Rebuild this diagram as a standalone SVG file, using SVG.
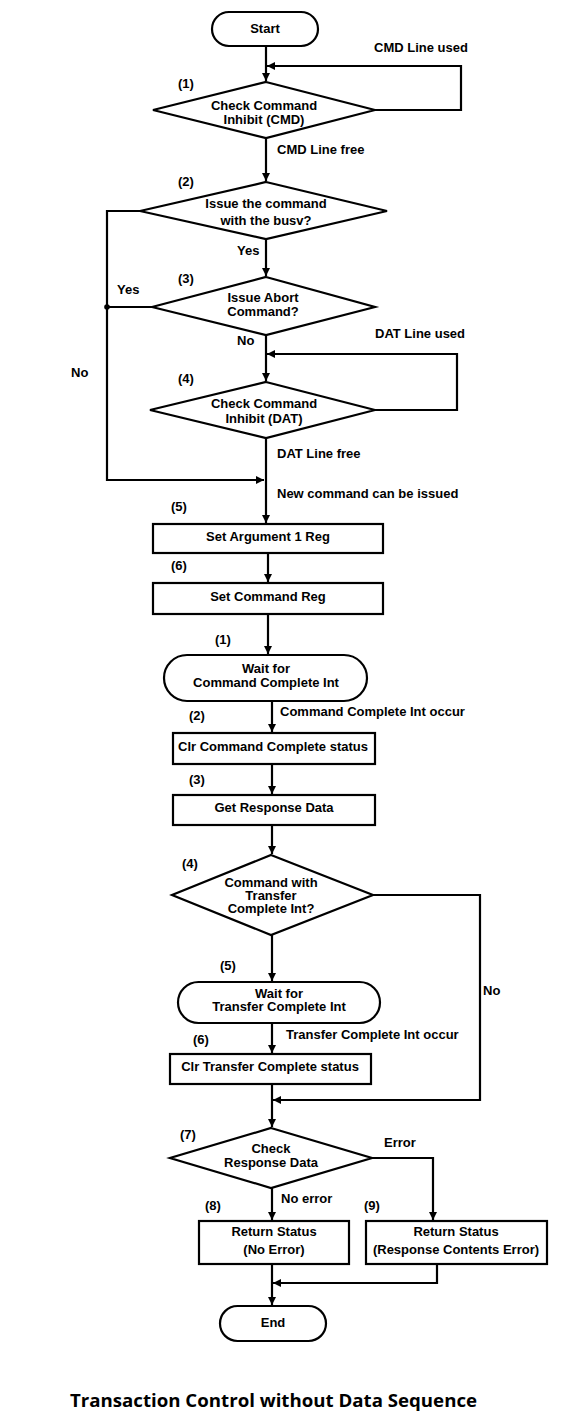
<svg xmlns="http://www.w3.org/2000/svg" width="576" height="1427" viewBox="0 0 576 1427">
<style>
.n{fill:#fff;stroke:#000;stroke-width:2.2}
.c{fill:none;stroke:#000;stroke-width:2.2}
text{font-family:"Liberation Sans",Arial,sans-serif;font-size:13px;font-weight:bold;fill:#000}
.m{text-anchor:middle}
.t{font-family:"Open Sans","Noto Sans",sans-serif;font-size:18px;font-weight:bold}
</style>
<defs>
<marker id="a" viewBox="0 0 10 10" refX="10" refY="5" markerWidth="9" markerHeight="8" markerUnits="userSpaceOnUse" orient="auto">
<path d="M0,0 L10,5 L0,10 z" fill="#000"/>
</marker>
</defs>
<g id="connectors">
<path class="c" d="M266,46 V81" marker-end="url(#a)"/>
<path class="c" d="M375,110 H461 V66 H267" marker-end="url(#a)"/>
<path class="c" d="M266,138 V181" marker-end="url(#a)"/>
<path class="c" d="M266,239 V276" marker-end="url(#a)"/>
<path class="c" d="M140,211 H107 V480 H264" marker-end="url(#a)"/>
<path class="c" d="M152,307 H107"/>
<circle cx="107" cy="307" r="2.8" fill="#000"/>
<path class="c" d="M266,335 V381" marker-end="url(#a)"/>
<path class="c" d="M375,410 H457 V354 H267" marker-end="url(#a)"/>
<path class="c" d="M266,438 V523" marker-end="url(#a)"/>
<path class="c" d="M268,553 V582" marker-end="url(#a)"/>
<path class="c" d="M268,614 V654" marker-end="url(#a)"/>
<path class="c" d="M272,701 V732" marker-end="url(#a)"/>
<path class="c" d="M272,764 V794" marker-end="url(#a)"/>
<path class="c" d="M272,825 V854" marker-end="url(#a)"/>
<path class="c" d="M272,935 V981" marker-end="url(#a)"/>
<path class="c" d="M272,1023 V1053" marker-end="url(#a)"/>
<path class="c" d="M373,895 H480 V1100 H273" marker-end="url(#a)"/>
<path class="c" d="M272,1084 V1127" marker-end="url(#a)"/>
<path class="c" d="M372,1158 H433 V1220" marker-end="url(#a)"/>
<path class="c" d="M272,1188 V1220" marker-end="url(#a)"/>
<path class="c" d="M437,1264 V1283 H273" marker-end="url(#a)"/>
<path class="c" d="M272,1264 V1305" marker-end="url(#a)"/>
</g>
<g id="labels">
<text x="374" y="52">CMD Line used</text>
<text x="277" y="154">CMD Line free</text>
<text x="237" y="255">Yes</text>
<text x="117" y="294">Yes</text>
<text x="375" y="338">DAT Line used</text>
<text x="237" y="345">No</text>
<text x="71" y="377">No</text>
<text x="277" y="458">DAT Line free</text>
<text x="277" y="498">New command can be issued</text>
<text x="280" y="716">Command Complete Int occur</text>
<text x="483" y="995">No</text>
<text x="286" y="1039">Transfer Complete Int occur</text>
<text x="384" y="1147">Error</text>
<text x="281" y="1203">No error</text>
<text x="178" y="88">(1)</text>
<text x="178" y="186">(2)</text>
<text x="178" y="283">(3)</text>
<text x="178" y="383">(4)</text>
<text x="171" y="511">(5)</text>
<text x="171" y="570">(6)</text>
<text x="215" y="644">(1)</text>
<text x="189" y="720">(2)</text>
<text x="189" y="784">(3)</text>
<text x="182" y="868">(4)</text>
<text x="220" y="970">(5)</text>
<text x="193" y="1044">(6)</text>
<text x="180" y="1139">(7)</text>
<text x="205" y="1210">(8)</text>
<text x="364" y="1210">(9)</text>
</g>
<g id="start">
<rect class="n" x="212" y="12" width="106" height="34" rx="17"/>
<text class="m" x="265" y="33">Start</text>
</g>
<g id="check-cmd">
<polygon class="n" points="266,82 375,110 266,138 153,110"/>
<text class="m" x="264" y="110">Check Command</text>
<text class="m" x="264" y="124">Inhibit (CMD)</text>
</g>
<g id="issue-busy">
<polygon class="n" points="266,182 387,211 266,239 140,211"/>
<text class="m" x="266" y="208">Issue the command</text>
<text class="m" x="266" y="225">with the busv?</text>
</g>
<g id="abort">
<polygon class="n" points="266,277 375,307 266,335 152,307"/>
<text class="m" x="263" y="302">Issue Abort</text>
<text class="m" x="263" y="316">Command?</text>
</g>
<g id="check-dat">
<polygon class="n" points="266,382 375,410 266,438 150,410"/>
<text class="m" x="264" y="408">Check Command</text>
<text class="m" x="264" y="423">Inhibit (DAT)</text>
</g>
<g id="set-arg">
<rect class="n" x="153" y="524" width="230" height="29"/>
<text class="m" x="268" y="541">Set Argument 1 Reg</text>
</g>
<g id="set-cmd">
<rect class="n" x="153" y="583" width="230" height="31"/>
<text class="m" x="268" y="601">Set Command Reg</text>
</g>
<g id="wait-cmd">
<rect class="n" x="164" y="655" width="203" height="46" rx="23"/>
<text class="m" x="266" y="673">Wait for</text>
<text class="m" x="266" y="687">Command Complete Int</text>
</g>
<g id="clr-cmd">
<rect class="n" x="173" y="733" width="202" height="31"/>
<text class="m" x="273" y="751">Clr Command Complete status</text>
</g>
<g id="get-resp">
<rect class="n" x="173" y="795" width="202" height="30"/>
<text class="m" x="274" y="812">Get Response Data</text>
</g>
<g id="with-transfer">
<polygon class="n" points="271,855 373,895 271,935 172,895"/>
<text class="m" x="271" y="887">Command with</text>
<text class="m" x="271" y="900">Transfer</text>
<text class="m" x="271" y="913">Complete Int?</text>
</g>
<g id="wait-transfer">
<rect class="n" x="178" y="982" width="202" height="41" rx="20.5"/>
<text class="m" x="279" y="998">Wait for</text>
<text class="m" x="279" y="1011">Transfer Complete Int</text>
</g>
<g id="clr-transfer">
<rect class="n" x="170" y="1054" width="201" height="30"/>
<text class="m" x="270" y="1071">Clr Transfer Complete status</text>
</g>
<g id="check-resp">
<polygon class="n" points="271,1128 372,1158 271,1188 170,1158"/>
<text class="m" x="271" y="1153">Check</text>
<text class="m" x="271" y="1167">Response Data</text>
</g>
<g id="ret-ok">
<rect class="n" x="199" y="1221" width="150" height="43"/>
<text class="m" x="274" y="1236">Return Status</text>
<text class="m" x="274" y="1254">(No Error)</text>
</g>
<g id="ret-err">
<rect class="n" x="366" y="1221" width="181" height="43"/>
<text class="m" x="456" y="1236">Return Status</text>
<text class="m" x="456" y="1254">(Response Contents Error)</text>
</g>
<g id="end">
<rect class="n" x="220" y="1306" width="106" height="35" rx="17.5"/>
<text class="m" x="273" y="1327">End</text>
</g>
<text class="t" x="70" y="1407" textLength="407" lengthAdjust="spacingAndGlyphs">Transaction Control without Data Sequence</text>
</svg>
